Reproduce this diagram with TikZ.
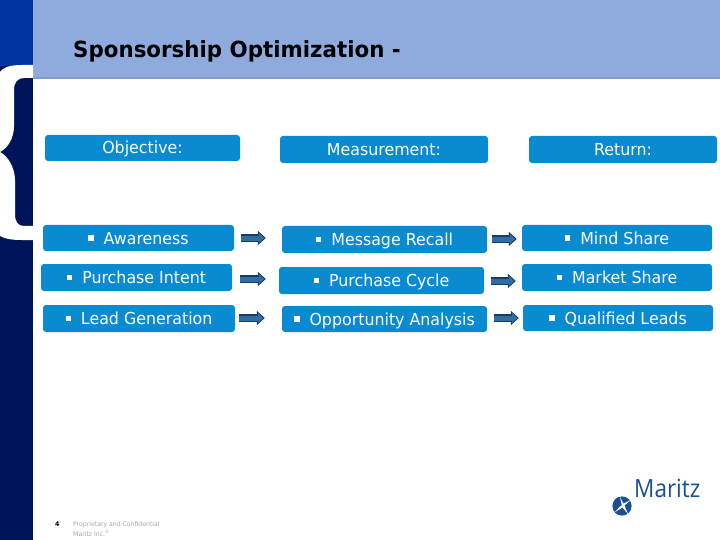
\documentclass[tikz,border=0pt]{standalone}
\usepackage{fontspec}
\setmainfont[FakeStretch=0.96]{DejaVu Sans}
\newfontfamily\logofont[FakeStretch=0.9]{Open Sans}
\usetikzlibrary{arrows.meta,calc}
\definecolor{hdr}{HTML}{8FABDD}
\definecolor{hdrdark}{HTML}{7F9BCF}
\definecolor{topblue}{HTML}{0033A0}
\definecolor{navy}{HTML}{00145A}
\definecolor{boxblue}{HTML}{0A8AD0}
\definecolor{arrowfill}{HTML}{2F6EA5}
\definecolor{arrowline}{HTML}{1C3A5E}
\definecolor{logoblue}{HTML}{1B4F91}
\definecolor{foot}{HTML}{A8A8A8}
\newcommand{\bul}{\rule[0.2em]{5.5pt}{5.5pt}\hspace{0.6em}}
\tikzset{
  bluebox/.style={fill=boxblue,rounded corners=3pt,inner sep=0pt,text=white,font=\fontsize{16.5}{19}\selectfont,text height=12pt,text depth=0pt},
  blockarrow/.style={
    preaction={draw=arrowline,line width=7.5pt,-{Triangle[length=8pt,width=14pt,fill=arrowline]},shorten >=0pt},
    draw=arrowfill,line width=5pt,-{Triangle[length=5.5pt,width=10pt,fill=arrowfill]},shorten >=1.5pt},
  foottext/.style={text=foot,font=\fontsize{6.4}{8}\selectfont,anchor=west,inner sep=0pt}
}
\begin{document}
\begin{tikzpicture}[x=1pt,y=-1pt]
\useasboundingbox (0,0) rectangle (720,540);
\fill[white] (0,0) rectangle (720,540);
% header and sidebar
\fill[hdr] (33,0) rectangle (720,77);
\fill[hdrdark] (33,77) rectangle (720,79);
\fill[navy] (0,60) rectangle (33,540);
\fill[topblue] (0,0) rectangle (33,66);
\fill[white] (33,65) -- (22,65) .. controls (8,65) and (3,68) .. (0,72) -- (0,236)
  .. controls (5,239) and (12,240) .. (22,240) -- (33,240) -- (33,226) -- (24,226)
  .. controls (18,226) and (15,222) .. (15,214) -- (15,180)
  .. controls (15,168) and (8,156) .. (0,152)
  .. controls (8,148) and (14,138) .. (14,126) -- (14,90)
  .. controls (14,82) and (18,78) .. (24,78) -- (33,78) -- cycle;
\node[anchor=base west,inner sep=0pt,font=\fontsize{22.25}{28}\bfseries\selectfont] (title) at (73,58) {Sponsorship Optimization -};
% headers
\node[bluebox,minimum width=195pt,minimum height=26pt] (obj) at (142.5,148) {Objective:};
\node[bluebox,minimum width=208pt,minimum height=27pt] (mea) at (384,149.5) {Measurement:};
\node[bluebox,minimum width=188pt,minimum height=27pt] (ret) at (623,149.5) {Return:};
% rows
\node[bluebox,minimum width=191pt,minimum height=26pt] (a1) at (138.5,238) {\bul Awareness};
\node[bluebox,minimum width=191pt,minimum height=27pt] (a2) at (136.5,277.5) {\bul Purchase Intent};
\node[bluebox,minimum width=192pt,minimum height=27pt] (a3) at (139,318.5) {\bul Lead Generation};
\node[bluebox,minimum width=205pt,minimum height=27pt] (b1) at (384.5,239.5) {\bul Message Recall};
\node[bluebox,minimum width=205pt,minimum height=27pt] (b2) at (381.5,280.5) {\bul Purchase Cycle};
\node[bluebox,minimum width=205pt,minimum height=26pt] (b3) at (384.5,319) {\bul Opportunity Analysis};
\node[bluebox,minimum width=190pt,minimum height=26pt] (c1) at (617,238) {\bul Mind Share};
\node[bluebox,minimum width=190pt,minimum height=27pt] (c2) at (617,277.5) {\bul Market Share};
\node[bluebox,minimum width=190pt,minimum height=26pt] (c3) at (618,318) {\bul Qualified Leads};
% connectors
\draw[blockarrow] ([xshift=7pt]a1.east) -- ([xshift=-16pt,yshift=1.5pt]b1.west);
\draw[blockarrow] ([xshift=8pt,yshift=-1.5pt]a2.east) -- ([xshift=-13pt,yshift=1.5pt]b2.west);
\draw[blockarrow] ([xshift=4pt,yshift=.5pt]a3.east) -- ([xshift=-17pt,yshift=1pt]b3.west);
\draw[blockarrow] ([xshift=5pt,yshift=.5pt]b1.east) -- ([xshift=-5pt,yshift=-1pt]c1.west);
\draw[blockarrow] ([xshift=7pt,yshift=-.5pt]b2.east) -- ([xshift=-6pt,yshift=-3.5pt]c2.west);
\draw[blockarrow] ([xshift=7pt,yshift=1pt]b3.east) -- ([xshift=-4pt]c3.west);
% footer
\node[anchor=west,inner sep=0pt,font=\fontsize{6.5}{8}\bfseries\selectfont] (pg) at (55,524.5) {4};
\node[foottext] (f1) at (73,524.5) {Proprietary and Confidential};
\node[foottext] (f2) at (73,533.5) {Maritz Inc.\textsuperscript{\textcopyright}};
% logo
\node[anchor=base west,inner sep=0pt,text=logoblue,font=\logofont\fontsize{25}{30}\selectfont] (logo) at (634,497) {Maritz};
\fill[logoblue] (622,506) circle (9.6);
\fill[white] (622,506) -- (620,497) -- (623.5,503.5) -- (631,500) -- (624.5,505.5) -- (628,514) -- (622.5,507.5) -- (615,512) -- (621,505.5) -- cycle;
\end{tikzpicture}
\end{document}
